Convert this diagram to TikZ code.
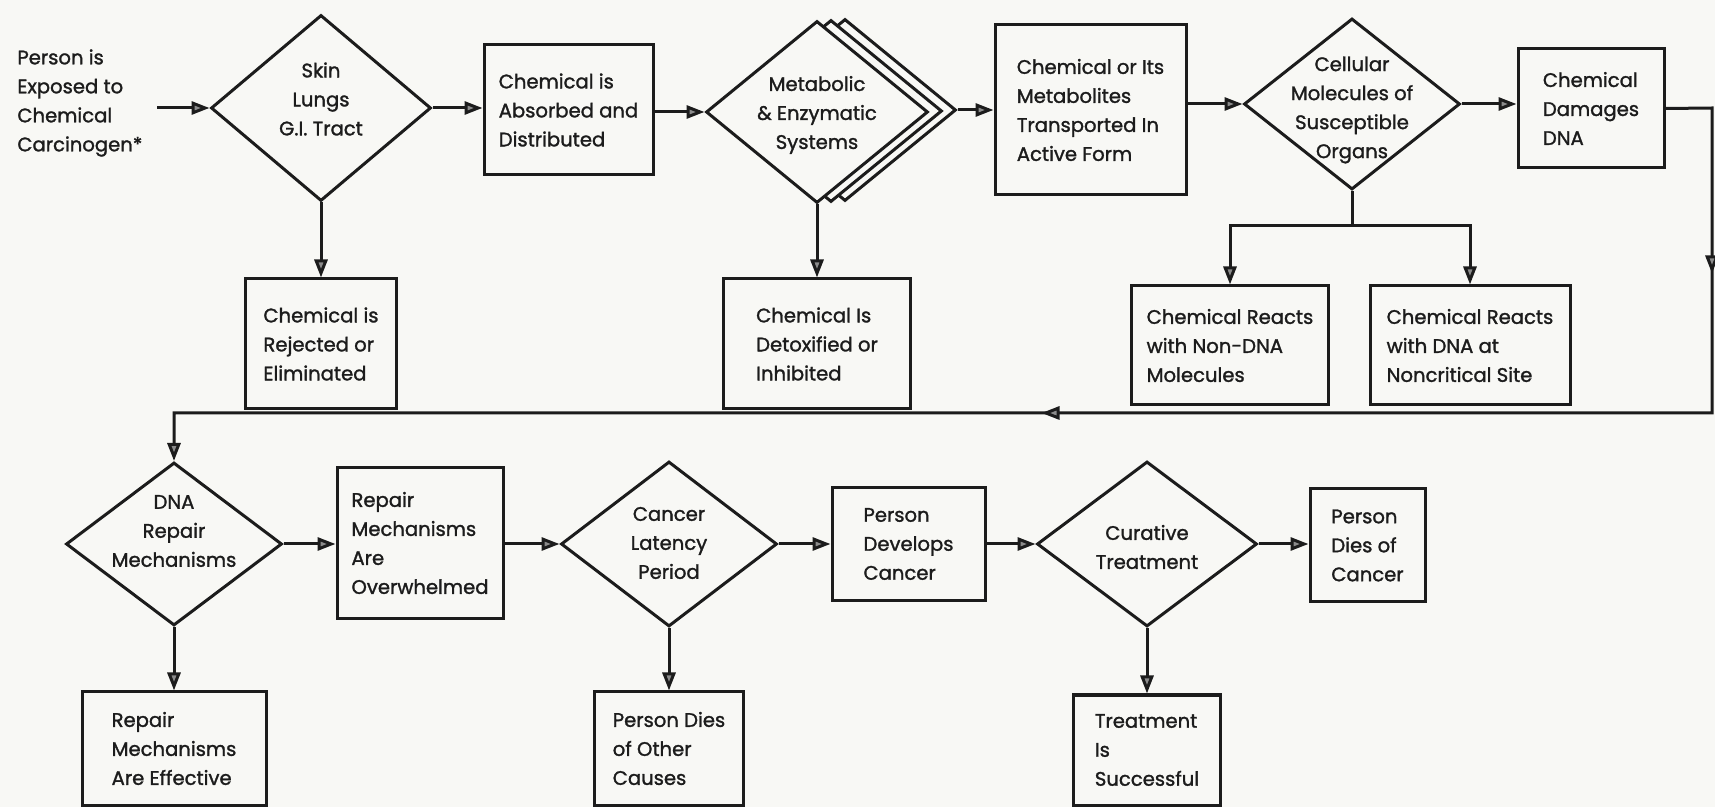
\documentclass[tikz,border=0pt]{standalone}
\usepackage{fontspec}
\setmainfont{Poppins}[FakeBold=1.4]
\usetikzlibrary{shapes.geometric,arrows.meta,decorations.markings}

\definecolor{ink}{RGB}{28,28,28}
\definecolor{paper}{RGB}{248,248,245}

\tikzset{
  txt/.style={font=\fontsize{9.8pt}{14.5pt}\selectfont, text=ink},
  box/.style={txt, draw=ink, line width=1.5pt, rectangle, align=left, inner sep=0pt, fill=paper},
  dia/.style={draw=ink, line width=1.5pt, diamond, inner sep=0pt, fill=paper},
  dtext/.style={txt, align=center, inner sep=0pt},
  conn/.style={draw=ink, line width=1.5pt},
  tip/.tip={Triangle[open, length=9pt, width=6.5pt, fill=black!45]},
  arr/.style={conn, -tip},
  flowmarks/.style={postaction={decorate}, decoration={markings,
      mark=at position 106pt with {\arrow{tip}},
      mark=at position 511pt with {\arrow{tip}}}},
}

\begin{document}
\begin{tikzpicture}[x=0.5pt, y=-0.5pt]
\useasboundingbox (0,0) rectangle (1715,807);
\fill[paper] (0,0) rectangle (1715,807);

% ---- upper chain ----
\node[txt, align=left, anchor=west, inner sep=0pt] (src) at (17,103)
  {Person is\\Exposed to\\Chemical\\Carcinogen*};
\coordinate (s0) at (157,108);

\node[dia, minimum width=110pt, minimum height=93pt] (D1) at (321,108) {};
\node[dtext] (D1t) at (321,99) {Skin\\Lungs\\G.I. Tract};

\node[box, minimum width=84.5pt, minimum height=65pt] (B1) at (568.5,110)
  {Chemical is\\Absorbed and\\Distributed};

\node[dia, minimum width=111pt, minimum height=91pt] (D2c) at (845,110) {};
\node[dia, minimum width=111pt, minimum height=91pt] (D2b) at (831,111) {};
\node[dia, minimum width=111pt, minimum height=91pt] (D2) at (817,112) {};
\node[dtext] (D2t) at (817,115) {Metabolic\\\& Enzymatic\\Systems};

\node[box, minimum width=95.5pt, minimum height=85pt] (B2) at (1090.5,110)
  {Chemical or Its\\Metabolites\\Transported In\\Active Form};

\node[dia, minimum width=108pt, minimum height=85.5pt] (D3) at (1352,104) {};
\node[dtext] (D3t) at (1352,110) {Cellular\\Molecules of\\Susceptible\\Organs};

\node[box, minimum width=73pt, minimum height=59.5pt] (B3) at (1591,108.5)
  {Chemical\\Damages\\DNA};

% ---- upper side branches ----
\node[box, minimum width=75.5pt, minimum height=65pt] (Rej) at (321,344)
  {Chemical is\\Rejected or\\Eliminated};
\node[box, minimum width=93.5pt, minimum height=65pt] (Det) at (817,344)
  {Chemical Is\\Detoxified or\\Inhibited};
\node[box, minimum width=98.5pt, minimum height=59.5pt] (NonDNA) at (1230,345.5)
  {Chemical Reacts\\with Non-DNA\\Molecules};
\node[box, minimum width=100pt, minimum height=59.5pt] (NonCrit) at (1470,345.5)
  {Chemical Reacts\\with DNA at\\Noncritical Site};
\coordinate (br) at (1352,226);

% ---- lower chain ----
\node[dia, minimum width=108pt, minimum height=81.5pt] (D4) at (174,544) {};
\node[dtext] (D4t) at (174,531) {DNA\\Repair\\Mechanisms};

\node[box, minimum width=83pt, minimum height=75.5pt] (B4) at (420,543)
  {Repair\\Mechanisms\\Are\\Overwhelmed};

\node[dia, minimum width=108pt, minimum height=82.5pt] (D5) at (669,544) {};
\node[dtext] (D5t) at (669,543) {Cancer\\Latency\\Period};

\node[box, minimum width=76.5pt, minimum height=56.5pt] (B5) at (908.5,544)
  {Person\\Develops\\Cancer};

\node[dia, minimum width=110pt, minimum height=82.5pt] (D6) at (1147,544) {};
\node[dtext] (D6t) at (1147,547) {Curative\\Treatment};

\node[box, minimum width=57.5pt, minimum height=56.5pt] (B6) at (1367.5,545.5)
  {Person\\Dies of\\Cancer};

% ---- lower side branches ----
\node[box, minimum width=92pt, minimum height=56.5pt] (Eff) at (174,748.5)
  {Repair\\Mechanisms\\Are Effective};
\node[box, minimum width=74.5pt, minimum height=56.5pt] (Oth) at (669,748.5)
  {Person Dies\\of Other\\Causes};
\node[box, minimum width=73.5pt, minimum height=55pt] (Suc) at (1147,750)
  {Treatment\\Is\\Successful};

% ---- return path corners ----
\coordinate (r1) at (1712,108);
\coordinate (r2) at (1712,413);
\coordinate (r3) at (174,413);

% ---- connectors: upper chain ----
\draw[arr] (s0) -- (D1.west);
\draw[arr] (D1.east) -- (D1.east -| B1.west);
\draw[arr] (B1.east |- D2.west) -- (D2.west);
\draw[arr] (D2c.east) -- (D2c.east -| B2.west);
\draw[arr] (B2.east |- D3.west) -- (D3.west);
\draw[arr] (D3.east) -- (D3.east -| B3.west);

\draw[arr] (D1.south) -- (Rej.north);
\draw[arr] (D2.south) -- (Det.north);
\draw[conn] (D3.south) -- (br);
\draw[arr] (br) -| (NonDNA.north);
\draw[arr] (br) -| (NonCrit.north);

% ---- long return path into the lower chain ----
\draw[arr, flowmarks] (B3.east) -- (r1) -- (r2) -- (r3) -- (D4.north);

% ---- connectors: lower chain ----
\draw[arr] (D4.east) -- (D4.east -| B4.west);
\draw[arr] (B4.east |- D5.west) -- (D5.west);
\draw[arr] (D5.east) -- (D5.east -| B5.west);
\draw[arr] (B5.east |- D6.west) -- (D6.west);
\draw[arr] (D6.east) -- (D6.east -| B6.west);

\draw[arr] (D4.south) -- (Eff.north);
\draw[arr] (D5.south) -- (Oth.north);
\draw[arr] (D6.south) -- (Suc.north);
\end{tikzpicture}
\end{document}
